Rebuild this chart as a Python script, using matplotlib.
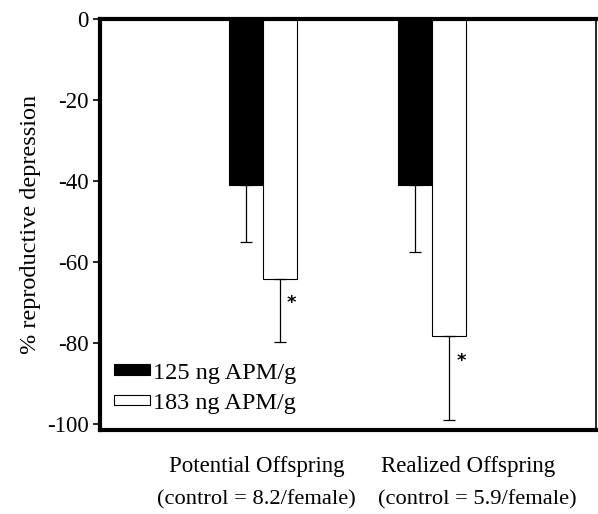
import numpy as np
import matplotlib.pyplot as plt

plt.rcParams['font.family'] = 'Liberation Serif'
plt.rcParams['axes.unicode_minus'] = False

# datos
grupos = ["Potential Offspring", "Realized Offspring"]
controles = ["(control = 8.2/female)", "(control = 5.9/female)"]
series = ["125 ng APM/g", "183 ng APM/g"]
valores_125 = [-41.0, -41.0]
valores_183 = [-64.2, -78.3]
erro_125 = [14.0, 16.5]
erro_183 = [15.6, 20.7]
signif_183 = [True, True]

fig = plt.figure(figsize=(5.98, 5.14), dpi=100)
ax = fig.add_axes([0.167, 0.163, 0.830, 0.800])

x = np.arange(len(grupos))
w = 0.2

zeros = [0, 0]
ax.bar(x - w / 2, valores_125, w, color="black", edgecolor="black", linewidth=0.8, label=series[0])
ax.bar(x + w / 2, valores_183, w, color="white", edgecolor="black", linewidth=0.8, label=series[1])
ax.errorbar(x - w / 2, valores_125, yerr=[erro_125, zeros], fmt="none", ecolor="black",
            elinewidth=0.9, capsize=4.5, capthick=0.9)
ax.errorbar(x + w / 2, valores_183, yerr=[erro_183, zeros], fmt="none", ecolor="black",
            elinewidth=0.9, capsize=4.5, capthick=0.9)

# asteriscos
for i, s in enumerate(signif_183):
    if s:
        ax.text(x[i] + w / 2 + 0.07, valores_183[i] - 6.0, "*", fontsize=13,
                fontfamily="DejaVu Sans", fontweight="bold", ha="center", va="center")

ax.set_xlim(-0.964, 1.97)
ax.set_ylim(-101.5, 0)
ax.set_yticks([0, -20, -40, -60, -80, -100])
ax.set_xticks([])
ax.tick_params(axis="y", direction="out", length=5, width=1.2, labelsize=16.5, pad=3)
ax.set_ylabel("% reproductive depression", fontsize=17.5, labelpad=4)

for lado in ["left", "bottom", "top"]:
    ax.spines[lado].set_linewidth(3)
ax.spines["right"].set_linewidth(1.2)

# rótulos das categorias
pos_x = [0.317, 0.742]
pos_x2 = [0.315, 0.76]
for i in range(len(grupos)):
    ax.text(pos_x[i], -0.088, grupos[i], transform=ax.transAxes, ha="center", va="center", fontsize=16.5)
    ax.text(pos_x2[i], -0.17, controles[i], transform=ax.transAxes, ha="center", va="center", fontsize=16.2)

ax.legend(loc="lower left", bbox_to_anchor=(0.028, 0.04), frameon=False, fontsize=17.5,
          handlelength=1.48, handleheight=0.3, handletextpad=0.15, labelspacing=0.38,
          borderaxespad=0, borderpad=0)

plt.savefig("out.png", dpi=100)
